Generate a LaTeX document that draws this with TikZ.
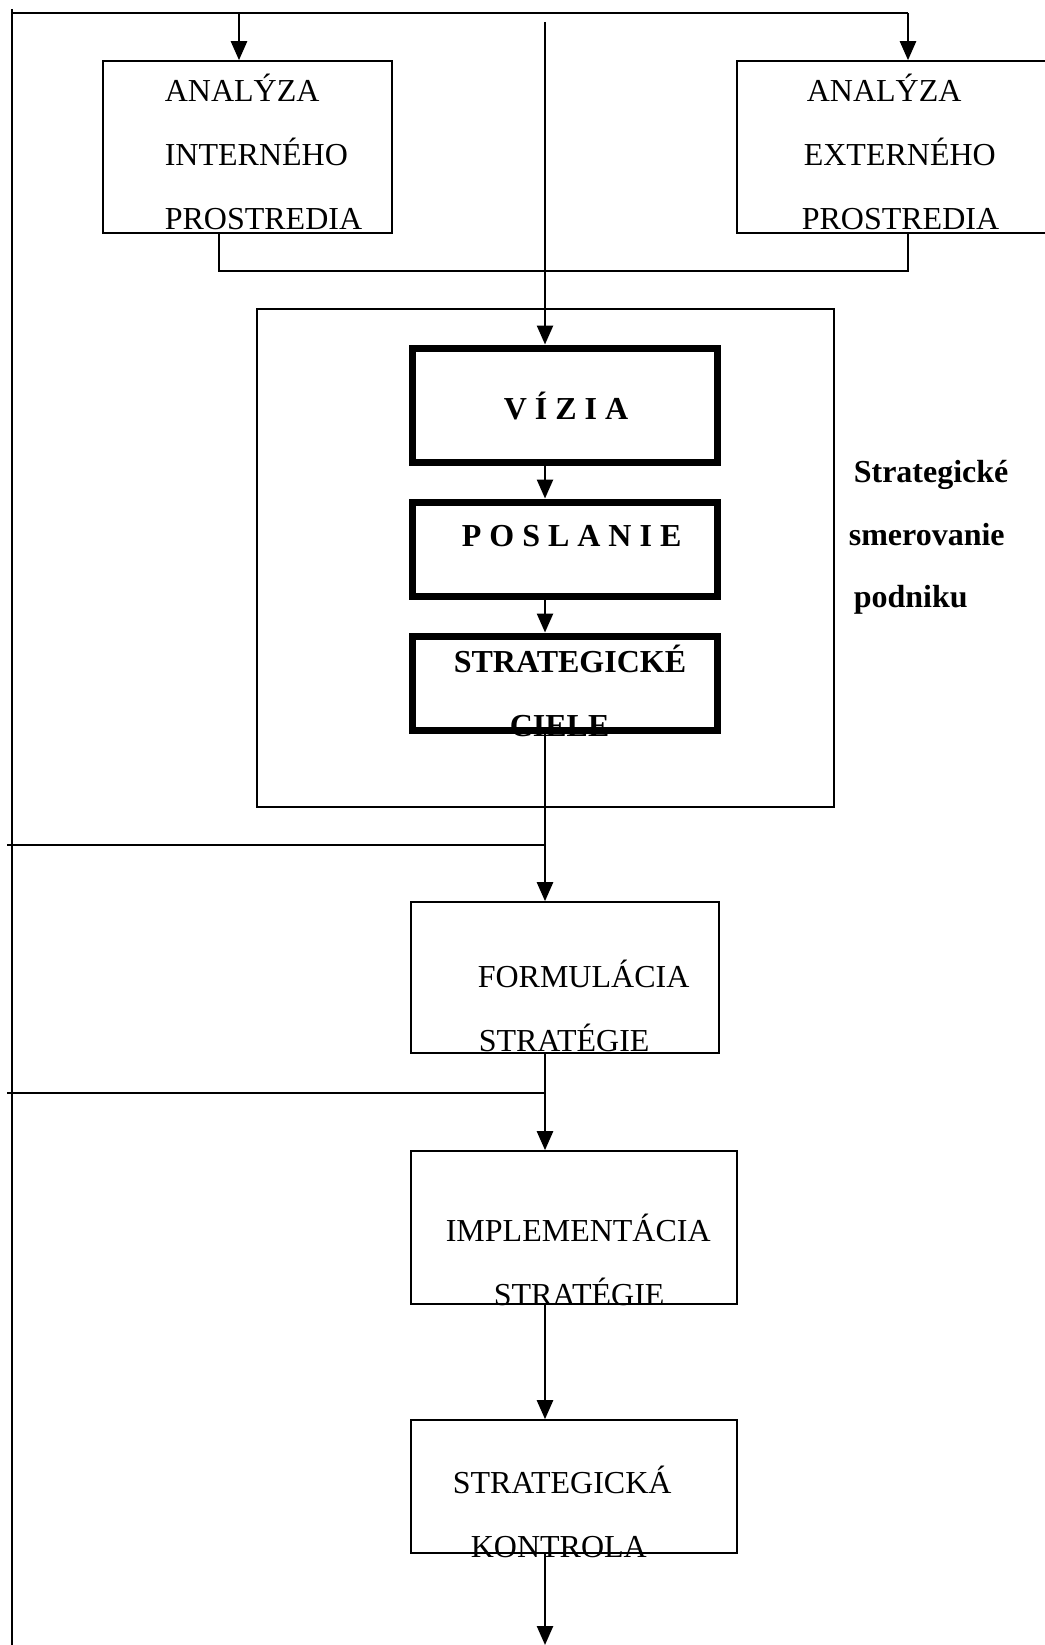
\documentclass[tikz,border=0pt]{standalone}
\usepackage{fontspec}
\setmainfont{Liberation Serif}
\usetikzlibrary{arrows.meta}

\begin{document}
\begin{tikzpicture}[x=1pt,y=-1pt,line width=1.6pt,
    box/.style={draw,rectangle,inner sep=0pt,line width=1.6pt},
    thickbox/.style={box,line width=7pt},
    arr/.style={line width=2.5pt,-{Triangle[width=16pt,length=19pt]}},
    lbl/.style={anchor=base west,inner sep=0pt,font=\fontsize{32}{38}\selectfont},
    blbl/.style={lbl,font=\fontsize{32}{38}\selectfont\bfseries}]
  \useasboundingbox (0,0) rectangle (1044,1645);
  % analyzy prostredia
  \node[box,minimum width=289pt,minimum height=172pt] (intA) at (247.5,147) {};
  \node[box,minimum width=363pt,minimum height=172pt] (extA) at (918.5,147) {};
  % strategicke smerovanie
  \node[box,minimum width=577pt,minimum height=498pt] (smer) at (545.5,558) {};
  \node[thickbox,minimum width=305pt,minimum height=114pt] (vizia) at (564.5,405) {};
  \node[thickbox,minimum width=305pt,minimum height=94pt] (poslanie) at (564.5,549) {};
  \node[thickbox,minimum width=305pt,minimum height=94pt] (ciele) at (564.5,683) {};
  % proces
  \node[box,minimum width=308pt,minimum height=151pt] (form) at (565,977.5) {};
  \node[box,minimum width=326pt,minimum height=153pt] (impl) at (574,1227.5) {};
  \node[box,minimum width=326pt,minimum height=133pt] (kontr) at (574,1486.5) {};

  % spatna vazba
  \coordinate (lt) at (12,9);   \coordinate (lb) at (12,1645);
  \coordinate (tl) at (12,13);  \coordinate (tr) at (908,13);
  \coordinate (ta) at (239,13);
  \coordinate (bl) at (219,271); \coordinate (br) at (908,271);
  \coordinate (c) at (545,22);  \coordinate (end) at (545,1645);
  \coordinate (f1) at (7,845);  \coordinate (f2) at (7,1093);
  \draw (lt) -- (lb);
  \draw (tl) -- (tr);
  \draw[arr] (ta) -- (ta |- intA.north);
  \draw[arr] (tr) -- (tr |- extA.north);
  \draw (bl |- intA.south) -- (bl) -- (br) -- (br |- extA.south);
  \draw (f1) -- (f1 -| c);
  \draw (f2) -- (f2 -| c);
  \draw[arr] (c) -- (c |- vizia.north);
  \draw[arr] (c |- vizia.south) -- (c |- poslanie.north);
  \draw[arr] (c |- poslanie.south) -- (c |- ciele.north);
  \draw[arr] (c |- ciele.south) -- (c |- form.north);
  \draw[arr] (c |- form.south) -- (c |- impl.north);
  \draw[arr] (c |- impl.south) -- (c |- kontr.north);
  \draw[arr] (c |- kontr.south) -- (end);

  \foreach \n/\x/\y/\t in {a1/164/102/ANALÝZA, a2/164/166/INTERNÉHO,
      a3/164/230/PROSTREDIA, e1/806/102/ANALÝZA, e2/803/166/EXTERNÉHO,
      e3/801/230/PROSTREDIA, fo1/477/987/FORMULÁCIA, fo2/478/1051/STRATÉGIE,
      im1/445/1241/IMPLEMENTÁCIA, im2/493/1305/STRATÉGIE,
      ko1/452/1493/STRATEGICKÁ, ko2/470/1557/KONTROLA}
    \node[lbl] (t\n) at (\x,\y) {\t};
  \foreach \n/\x/\y/\t in {v/503/419/V Í Z I A, p/461/546/P O S L A N I E,
      s1/453/672/STRATEGICKÉ, s2/509/736/CIELE, m1/853/482/Strategické,
      m2/848/545/smerovanie, m3/853/607/podniku}
    \node[blbl] (t\n) at (\x,\y) {\t};
\end{tikzpicture}
\end{document}
